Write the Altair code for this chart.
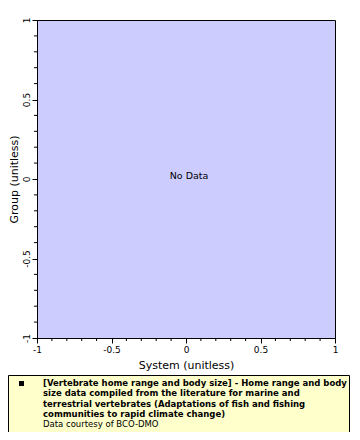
import altair as alt
import pandas as pd

# Axis ticks
major_ticks = [-1, -0.5, 0, 0.5, 1]
minor_ticks = [-0.9, -0.8, -0.7, -0.6, -0.4, -0.3, -0.2, -0.1,
               0.1, 0.2, 0.3, 0.4, 0.6, 0.7, 0.8, 0.9]
axis_domain = [-1, 1]

no_data_label = ["No Data"]
legend_title_lines = [
    "[Vertebrate home range and body size] - Home range and body",
    "size data compiled from the literature for marine and",
    "terrestrial vertebrates (Adaptations of fish and fishing",
    "communities to rapid climate change)",
]
legend_credit = ["Data courtesy of BCO-DMO"]

FONT = "DejaVu Sans"
LABEL_EXPR = "replace(datum.label, '\u2212', '-')"

xscale = alt.Scale(domain=axis_domain, nice=False, zero=False)
yscale = alt.Scale(domain=axis_domain, nice=False, zero=False)

xaxis = alt.Axis(values=major_ticks, title="System (unitless)", grid=False,
                 tickSize=5, labelFontSize=9, titleFontSize=11,
                 titleFontWeight="normal", labelPadding=2, titlePadding=5,
                 format="~g", labelFlush=False, labelExpr=LABEL_EXPR)
yaxis = alt.Axis(values=major_ticks, title="Group (unitless)", grid=False,
                 tickSize=5, labelFontSize=9, titleFontSize=11,
                 titleFontWeight="normal", labelAngle=270, labelAlign="center",
                 labelBaseline="bottom", labelPadding=1,
                 titleX=-18, titleY=159, titleBaseline="bottom", titleAlign="center",
                 titleAngle=270,
                 format="~g", labelFlush=False, labelExpr=LABEL_EXPR)

ticks_df = pd.DataFrame({"v": minor_ticks})

# base layer that carries axes
base = alt.Chart(pd.DataFrame({"x": [0], "y": [0], "t": no_data_label})).mark_text(
    font=FONT, fontSize=9.5, color="black", dx=3, dy=-3
).encode(
    x=alt.X("x:Q", scale=xscale, axis=xaxis),
    y=alt.Y("y:Q", scale=yscale, axis=yaxis),
    text="t:N",
)

minor_x = alt.Chart(ticks_df).mark_rule(color="black", strokeWidth=1).encode(
    x=alt.X("v:Q", scale=xscale),
    y=alt.value(318), y2=alt.value(321),
)
minor_y = alt.Chart(ticks_df).mark_rule(color="black", strokeWidth=1).encode(
    y=alt.Y("v:Q", scale=yscale),
    x=alt.value(0), x2=alt.value(-3),
)

legend_box = alt.Chart(pd.DataFrame({"a": [0]})).mark_rect(
    fill="#FFFFCC", stroke="black", strokeWidth=1
).encode(
    x=alt.value(-28.5), x2=alt.value(312.5),
    y=alt.value(355.5), y2=alt.value(415.5),
)
legend_sym = alt.Chart(pd.DataFrame({"a": [0]})).mark_square(
    color="black", size=25, opacity=1
).encode(x=alt.value(-15.5), y=alt.value(363.5))

legend_text = alt.Chart(pd.DataFrame({"t": ["\n".join(legend_title_lines)]})).mark_text(
    font=FONT, fontSize=8.5, fontWeight="bold", color="black", align="left",
    baseline="top", lineBreak="\n", lineHeight=10.3
).encode(x=alt.value(6), y=alt.value(359), text="t:N")

legend_cred = alt.Chart(pd.DataFrame({"t": legend_credit})).mark_text(
    font=FONT, fontSize=8.5, color="black", align="left", baseline="top"
).encode(x=alt.value(6), y=alt.value(400), text="t:N")

chart = alt.layer(
    base, minor_x, minor_y, legend_box, legend_sym, legend_text, legend_cred
).properties(
    width=298, height=318, autosize="none",
    padding={"left": 29, "top": 12, "right": 15, "bottom": 94},
).configure_view(
    fill="#CCCCFF", stroke="black", strokeWidth=1
).configure_axis(
    domainColor="black", tickColor="black", labelColor="black",
    titleColor="black", labelFont=FONT, titleFont=FONT,
)

chart.save("out.html", embed_options={"renderer": "svg", "actions": False})
